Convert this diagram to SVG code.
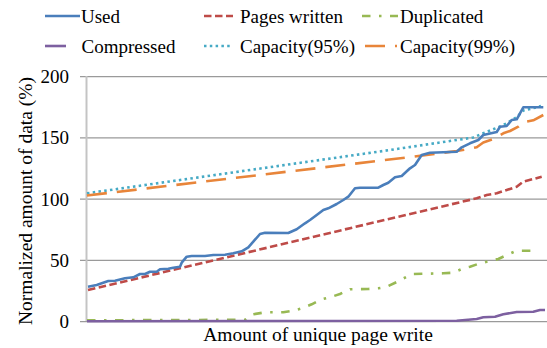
<svg xmlns="http://www.w3.org/2000/svg" width="547" height="348" viewBox="0 0 547 348" font-family="'Liberation Serif', Tinos, 'Times New Roman', 'Noto Serif', 'DejaVu Serif', FreeSerif, serif">
  <style>
    .tick { font-size: 19px; text-anchor: end; }
    .leg { font-size: 19px; }
    .title { font-size: 19.5px; }
    .grid { stroke: #9a9a9a; stroke-width: 1.2; fill: none; }
    .axis { stroke: #c4c4c4; stroke-width: 2; fill: none; }
    .s { fill: none; stroke-width: 2.6; stroke-linejoin: round; }
    .used { stroke: #4a7ebb; }
    .pages { stroke: #be4b48; stroke-dasharray: 7.5 3.5; }
    .dup { stroke: #98b954; stroke-dasharray: 8.5 8.5 2.5 8.5; }
    .comp { stroke: #7d60a0; }
    .cap95 { stroke: #46aac5; stroke-dasharray: 2.5 3.3; }
    .cap99 { stroke: #e8853a; stroke-dasharray: 20 10; }
  </style>

  <!-- gridlines and axes -->
  <g id="axes">
    <line class="grid" x1="80" y1="76.7" x2="547" y2="76.7" stroke="#c4c4c4"/>
    <line class="grid" x1="80" y1="137.9" x2="547" y2="137.9"/>
    <line class="grid" x1="80" y1="199.2" x2="547" y2="199.2"/>
    <line class="grid" x1="80" y1="260.4" x2="547" y2="260.4"/>
    <line class="axis" x1="86.5" y1="76" x2="86.5" y2="322"/>
    <line class="grid" x1="80" y1="321.7" x2="547" y2="321.7"/>
    <text class="tick" x="69" y="83" font-family="Liberation Serif">200</text>
    <text class="tick" x="69" y="144.2" font-family="Liberation Serif">150</text>
    <text class="tick" x="69" y="205.5" font-family="Liberation Serif">100</text>
    <text class="tick" x="69" y="266.7" font-family="Liberation Serif">50</text>
    <text class="tick" x="69" y="328" font-family="Liberation Serif">0</text>
    <text class="title" x="318" y="341" text-anchor="middle" font-family="Liberation Serif">Amount of unique page write</text>
    <text class="title" transform="translate(32 201) rotate(-90)" text-anchor="middle" font-family="Liberation Serif">Normalized amount of data (%)</text>
  </g>

  <!-- data series -->
  <g id="series">
    <polyline id="capacity95" class="s cap95" points="87,193.3 390,150 473.3,137.5 483.3,133.3 500,126.5 506.7,123.3 513.3,119.3 517,117 523.3,110.5 530,109 541,106"/>
    <polyline id="capacity99" class="s cap99" points="87,195.5 413.3,156.7 456.7,151 466.7,149.3 476.7,147.3 483.3,142.5 493.3,139 503.3,133.3 510,131 518.3,126.7 523.3,122.3 533.3,120.3 543.3,115"/>
    <polyline id="pages" class="s pages" points="88,290 476.7,198.3 486.7,195 496.7,193.3 506.7,190 516.7,186.7 523.3,181.7 541.7,176.7"/>
    <polyline id="duplicated" class="s dup" points="87,320.3 245,319.8 253.3,314.3 265,312.3 283.3,312.3 293.3,310.7 301.7,308.3 311.7,304.3 321.7,299.3 330,297.3 340,294 350,289.3 368.3,289 378.3,288.3 386.7,286.7 396.7,282 406.7,276.7 413.3,274 443.3,273.3 453.3,272.7 463.3,268.3 470,266.7 480,263.3 490,261 498.3,259 506.7,255 516.7,250.7 537,250.7"/>
    <polyline id="compressed" class="s comp" points="87,321.3 456.7,320.8 476.7,319 483.3,317.3 495,316.7 503.3,314.3 516.7,312 533.3,311.7 540,310 545,310"/>
    <polyline id="used" class="s used" points="88,286.7 96.7,285 101.7,283.3 108.3,281 115,280.7 125,278.3 133.3,277.3 140,274 145,274 150,271.7 156.7,271.7 160,269.3 168.3,268.7 173.3,267.7 180,266.7 181.7,262.7 186.7,256.7 191.7,256 205,256 213.3,255 225,254.7 233.3,253.3 241.7,251.3 248.3,247.3 253.3,241.7 260,234 265,232.8 288.3,233 296.7,229.3 305,223.3 310,220 316.7,215 323.3,210 328.3,208.3 336.7,204 343.3,200 348.3,196.7 355,188.3 360,187.7 378.3,187.7 383.3,185 388.3,182.7 395,177.3 401.7,176 410,168.3 415,165 421.7,155 430,152.7 456.7,151.7 461.7,147.3 470,143.3 478.3,140 483.3,135 496.7,132 500,126.7 506.7,126 511.7,120 516.7,119.3 523.3,107.3 543.3,107.3"/>
  </g>

  <!-- legend -->
  <g id="legend">
    <g id="leg-used"><line class="s used" x1="45" y1="16" x2="80" y2="16"/><text class="leg" x="81" y="23">Used</text></g>
    <g id="leg-pages"><line class="s pages" x1="204" y1="16" x2="233" y2="16"/><text class="leg" x="240" y="23">Pages written</text></g>
    <g id="leg-dup"><line class="s dup" x1="362" y1="16" x2="398" y2="16"/><text class="leg" x="400" y="23">Duplicated</text></g>
    <g id="leg-comp"><line class="s comp" x1="45" y1="46" x2="66" y2="46"/><text class="leg" x="81.5" y="53">Compressed</text></g>
    <g id="leg-cap95"><line class="s cap95" x1="204" y1="46" x2="233" y2="46"/><text class="leg" x="240" y="53">Capacity(95%)</text></g>
    <g id="leg-cap99"><line class="s cap99" x1="365" y1="46" x2="397" y2="46"/><text class="leg" x="400" y="53">Capacity(99%)</text></g>
  </g>
</svg>
